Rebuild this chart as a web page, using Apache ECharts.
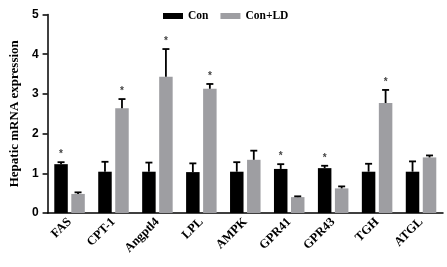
<!DOCTYPE html>
<html>
<head>
<meta charset="utf-8">
<script src="https://cdn.jsdelivr.net/npm/echarts@6/dist/echarts.min.js"></script>
<style>
  html, body { margin: 0; padding: 0; background: #fff; }
  #chart { width: 447px; height: 267px; }
</style>
</head>
<body>
<div id="chart"></div>
<script>
var genes = ['FAS', 'CPT-1', 'Angptl4', 'LPL', 'AMPK', 'GPR41', 'GPR43', 'TGH', 'ATGL'];
var conMean = [1.23, 1.04, 1.04, 1.03, 1.04, 1.11, 1.13, 1.04, 1.04];
var conSd   = [0.05, 0.25, 0.23, 0.22, 0.24, 0.12, 0.06, 0.20, 0.26];
var ldMean  = [0.48, 2.64, 3.43, 3.13, 1.34, 0.40, 0.62, 2.77, 1.40];
var ldSd    = [0.04, 0.23, 0.70, 0.12, 0.23, 0.02, 0.05, 0.33, 0.05];
var conSig  = [1, 0, 0, 0, 0, 1, 1, 0, 0];
var ldSig   = [0, 1, 1, 1, 0, 0, 0, 1, 0];

var BAR_W = 13.5;
var OFFSET = 8.5; // half of (bar + gap)

function errData(mean, sd, sig) {
  var out = [];
  for (var i = 0; i < mean.length; i++) out.push([i, mean[i], mean[i] + sd[i], sig[i]]);
  return out;
}

function makeErrRender(dx) {
  return function (params, api) {
    var i = api.value(0);
    var top = api.coord([i, api.value(2)]);
    var base = api.coord([i, api.value(1)]);
    var x = top[0] + dx;
    var children = [
      { type: 'line', shape: { x1: x, y1: base[1], x2: x, y2: top[1] },
        style: { stroke: '#000', lineWidth: 1.8 } },
      { type: 'line', shape: { x1: x - 3.5, y1: top[1], x2: x + 3.5, y2: top[1] },
        style: { stroke: '#000', lineWidth: 1.8 } }
    ];
    if (api.value(3)) {
      children.push({ type: 'text', x: x, y: top[1] - 3,
        style: { text: '*', fill: '#444', font: 'bold 10px "Liberation Sans", Arial',
          align: 'center', verticalAlign: 'bottom' } });
    }
    return { type: 'group', children: children };
  };
}

var chart = echarts.init(document.getElementById('chart'));
var option = {
  animation: false,
  grid: { left: 34, right: 4, top: 14.5, bottom: 54 },
  legend: {
    left: 158, top: 5,
    itemWidth: 20, itemHeight: 6, itemGap: 12,
    icon: 'rect',
    textStyle: { fontFamily: '"Liberation Serif", "Times New Roman", serif', fontWeight: 'bold',
      fontSize: 11.5, color: '#000' },
    data: ['Con', 'Con+LD']
  },
  xAxis: {
    type: 'category',
    data: genes,
    axisLine: { lineStyle: { color: '#000', width: 1.5 } },
    axisTick: { alignWithLabel: true, length: 4, lineStyle: { color: '#000', width: 1.5 } },
    axisLabel: { rotate: 45, margin: 7, interval: 0, color: '#000', fontSize: 12.5, fontWeight: 'bold',
      fontFamily: '"Liberation Serif", "Times New Roman", serif' }
  },
  yAxis: {
    type: 'value', min: 0, max: 5, interval: 1,
    name: 'Hepatic mRNA expression',
    nameLocation: 'middle', nameRotate: 90, nameGap: 22,
    nameTextStyle: { fontFamily: '"Liberation Serif", "Times New Roman", serif', fontWeight: 'bold',
      fontSize: 13, color: '#000' },
    axisLine: { show: true, lineStyle: { color: '#000', width: 1.5 } },
    axisTick: { show: true, length: 5, lineStyle: { color: '#000', width: 1.5 } },
    axisLabel: { margin: 9, color: '#000', fontSize: 12, fontWeight: 'bold',
      fontFamily: '"Liberation Sans", Arial, sans-serif' },
    splitLine: { show: false }
  },
  series: [
    { name: 'Con', type: 'bar', data: conMean, barWidth: BAR_W, barGap: '26%',
      itemStyle: { color: '#000' } },
    { name: 'Con+LD', type: 'bar', data: ldMean, barWidth: BAR_W,
      itemStyle: { color: '#9e9ea2' } },
    { type: 'custom', data: errData(conMean, conSd, conSig), renderItem: makeErrRender(-OFFSET),
      encode: { x: 0, y: [1, 2] }, z: 5 },
    { type: 'custom', data: errData(ldMean, ldSd, ldSig), renderItem: makeErrRender(OFFSET),
      encode: { x: 0, y: [1, 2] }, z: 5 }
  ]
};
chart.setOption(option);
</script>
</body>
</html>
